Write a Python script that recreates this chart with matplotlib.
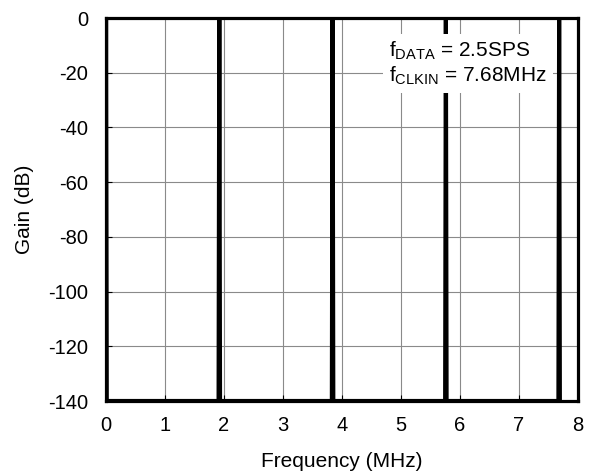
import matplotlib
matplotlib.use("Agg")
import matplotlib.pyplot as plt
import numpy as np

plt.rcParams['font.family'] = ['Liberation Sans', 'DejaVu Sans']
plt.rcParams['mathtext.fontset'] = 'custom'
plt.rcParams['mathtext.rm'] = 'Liberation Sans'
plt.rcParams['mathtext.it'] = 'Liberation Sans'
plt.rcParams['axes.unicode_minus'] = False

# Passband centres (multiples of fCLKIN/4) and their gain; everywhere else sits at the floor
passband_mhz = [0.0, 1.92, 3.84, 5.76, 7.68]
passband_gain_db = [0.0, 0.0, 0.0, 0.0, 0.0]
floor_gain_db = -140.0
x_ticks = [0, 1, 2, 3, 4, 5, 6, 7, 8]
y_ticks = [0, -20, -40, -60, -80, -100, -120, -140]

# Build the response trace: floor between narrow passbands
half_width = 0.012
freq, gain = [], []
for f0, g0 in zip(passband_mhz, passband_gain_db):
    freq += [f0 - half_width, f0, f0 + half_width]
    gain += [floor_gain_db, g0, floor_gain_db]

fig = plt.figure(figsize=(5.9, 4.74), dpi=100)
ax = fig.add_axes([0.1797, 0.154, 0.80, 0.808])

ax.plot(freq, gain, color='black', lw=3.0, solid_joinstyle='miter', zorder=3)

ax.set_xlim(0, 8)
ax.set_ylim(-140, 0)
ax.set_xticks(x_ticks)
ax.set_yticks(y_ticks)
ax.grid(True, color='#8a8a8a', lw=0.8)
ax.set_axisbelow(True)
for s in ax.spines.values():
    s.set_linewidth(2.3)
    s.set_zorder(4)
ax.tick_params(direction='in', length=4, width=0.8, labelsize=14.5)
ax.tick_params(axis='x', pad=11)
ax.tick_params(axis='y', pad=13)
ax.set_xlabel('Frequency (MHz)', fontsize=15, labelpad=12)
ax.set_ylabel('Gain (dB)', fontsize=15, labelpad=10)

ax.text(4.80, -8.0,
        'f$_{\\mathrm{DATA}}$ = 2.5SPS\nf$_{\\mathrm{CLKIN}}$ = 7.68MHz',
        fontsize=15, ha='left', va='top', linespacing=1.12, zorder=5,
        bbox=dict(boxstyle='square,pad=0.3', fc='white', ec='none'))

fig.savefig('out.png', dpi=100)
